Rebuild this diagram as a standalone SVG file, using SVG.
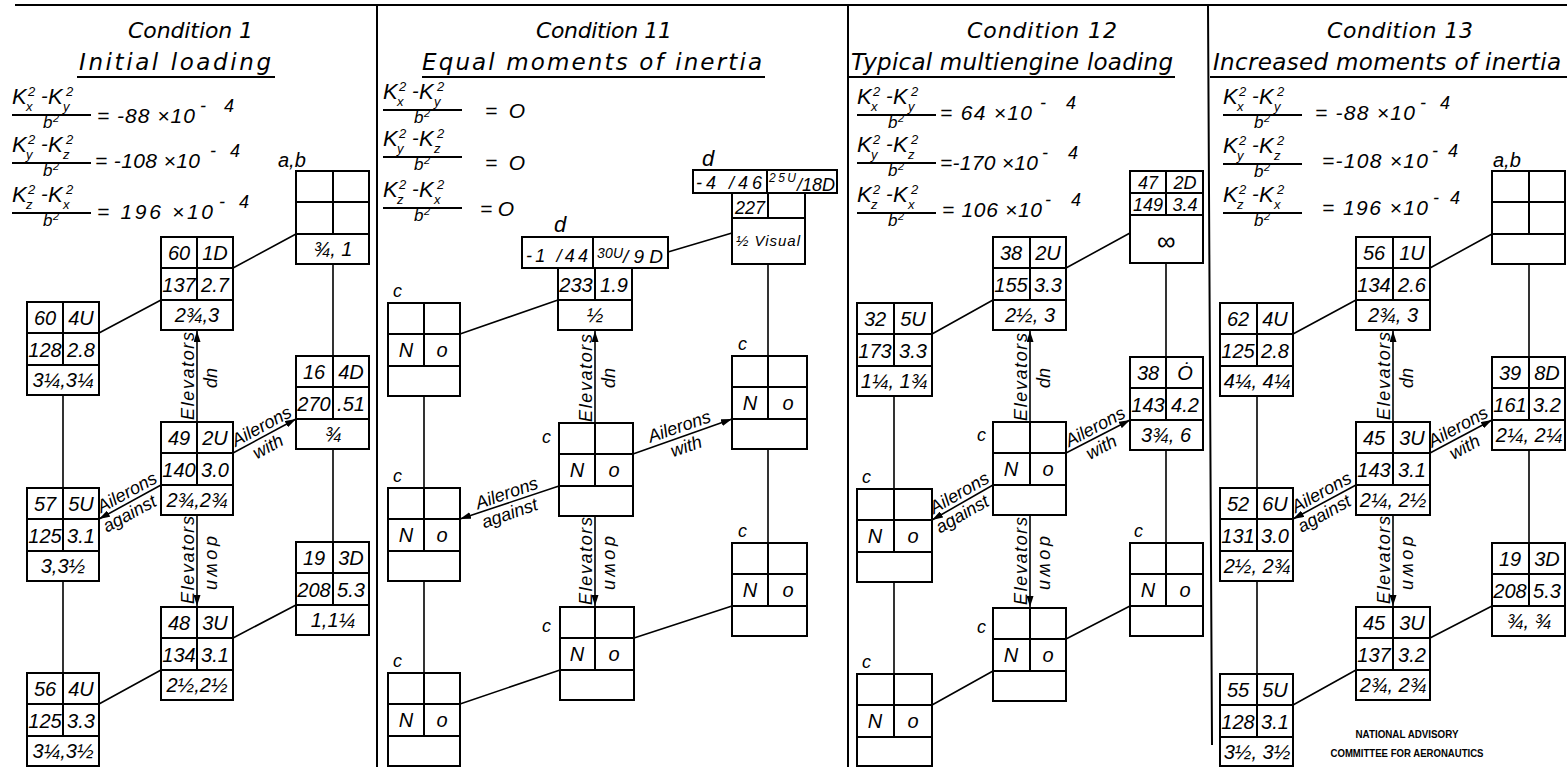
<svg xmlns="http://www.w3.org/2000/svg" width="1567" height="767" viewBox="0 0 1567 767">
<style>
text{font-family:"Liberation Sans",Arial,sans-serif;font-style:italic;fill:#000}
.c{text-anchor:middle}
.n{font-size:20px}
.s{font-size:18px}
.bx{fill:none;stroke:#000;stroke-width:2}
.ln{fill:none;stroke:#000;stroke-width:1.6}
.fr{stroke:#000;stroke-width:1.8}
.ttl{font-family:"DejaVu Sans",Verdana,sans-serif;font-style:oblique;font-size:22px}
.sub{font-family:"DejaVu Sans",Verdana,sans-serif;font-style:oblique;font-size:23px}
.lab{font-size:18px}
.eq{font-size:21px}
.sup{font-size:18px}
.stamp{font-style:normal;font-weight:bold;font-size:11px;text-anchor:middle}
</style>
<defs>
<marker id="ah" markerUnits="userSpaceOnUse" markerWidth="11" markerHeight="7" refX="11" refY="3.5" orient="auto"><path d="M0,0 L11,3.5 L0,7 z" fill="#000"/></marker>
<g id="fA">
<text x="0" y="-11" font-size="22">K</text><text x="16" y="-19" font-size="13">2</text><text x="14" y="-4" font-size="13">x</text>
<text x="29" y="-12" font-size="20">-</text>
<text x="36" y="-11" font-size="22">K</text><text x="54" y="-19" font-size="13">2</text><text x="51" y="-4" font-size="13">y</text>
<line class="fr" x1="0" y1="0" x2="79" y2="0"/>
<text x="31" y="13" font-size="17">b</text><text x="41" y="7" font-size="11">2</text>
</g>
<g id="fB">
<text x="0" y="-11" font-size="22">K</text><text x="16" y="-19" font-size="13">2</text><text x="14" y="-4" font-size="13">y</text>
<text x="29" y="-12" font-size="20">-</text>
<text x="36" y="-11" font-size="22">K</text><text x="54" y="-19" font-size="13">2</text><text x="51" y="-4" font-size="13">z</text>
<line class="fr" x1="0" y1="0" x2="79" y2="0"/>
<text x="31" y="13" font-size="17">b</text><text x="41" y="7" font-size="11">2</text>
</g>
<g id="fC">
<text x="0" y="-11" font-size="22">K</text><text x="16" y="-19" font-size="13">2</text><text x="14" y="-4" font-size="13">z</text>
<text x="29" y="-12" font-size="20">-</text>
<text x="36" y="-11" font-size="22">K</text><text x="54" y="-19" font-size="13">2</text><text x="51" y="-4" font-size="13">x</text>
<line class="fr" x1="0" y1="0" x2="79" y2="0"/>
<text x="31" y="13" font-size="17">b</text><text x="41" y="7" font-size="11">2</text>
</g>
</defs>
<rect width="1567" height="767" fill="#fff"/>

<g id="frame" fill="none" stroke="#000" stroke-width="2">
<path d="M15 5H1567M377 5V767M848 5V767M1208 5L1212 745"/>
<path d="M77 77H275M422 77H765M848 77H1175M1210 77H1567" stroke-width="1.8"/>
</g>

<g id="titles">
<text class="ttl" x="128" y="38" textLength="125" lengthAdjust="spacing">Condition 1</text>
<text class="sub" x="79" y="70" textLength="192" lengthAdjust="spacing">Initial loading</text>
<text class="ttl" x="536" y="38" textLength="136" lengthAdjust="spacing">Condition 11</text>
<text class="sub" x="422" y="70" textLength="340" lengthAdjust="spacing">Equal moments of inertia</text>
<text class="ttl" x="967" y="38" textLength="150" lengthAdjust="spacing">Condition 12</text>
<text class="sub" x="851" y="70" textLength="322" lengthAdjust="spacing">Typical multiengine loading</text>
<text class="ttl" x="1327" y="38" textLength="146" lengthAdjust="spacing">Condition 13</text>
<text class="sub" x="1213" y="70" textLength="348" lengthAdjust="spacing">Increased moments of inertia</text>
</g>

<g id="equations">
<use href="#fA" x="12" y="115"/><use href="#fB" x="12" y="163"/><use href="#fC" x="12" y="213"/>
<text class="eq" x="97" y="123" textLength="98" lengthAdjust="spacing">= -88 ×10</text><text class="sup" x="200" y="112" textLength="34" lengthAdjust="spacing">- 4</text>
<text class="eq" x="95" y="168" textLength="105" lengthAdjust="spacing">= -108 ×10</text><text class="sup" x="210" y="157" textLength="30" lengthAdjust="spacing">- 4</text>
<text class="eq" x="97" y="219" textLength="116" lengthAdjust="spacing">= 196 ×10</text><text class="sup" x="219" y="208" textLength="30" lengthAdjust="spacing">- 4</text>

<use href="#fA" x="383" y="110"/><use href="#fB" x="383" y="157"/><use href="#fC" x="383" y="208"/>
<text class="eq" x="485" y="118" textLength="40" lengthAdjust="spacing">=  O</text>
<text class="eq" x="485" y="170" textLength="40" lengthAdjust="spacing">=  O</text>
<text class="eq" x="480" y="216" textLength="34" lengthAdjust="spacing">= O</text>

<use href="#fA" x="857" y="115"/><use href="#fB" x="857" y="163"/><use href="#fC" x="857" y="213"/>
<text class="eq" x="940" y="120" textLength="92" lengthAdjust="spacing">= 64 ×10</text><text class="sup" x="1040" y="109" textLength="36" lengthAdjust="spacing">- 4</text>
<text class="eq" x="940" y="170" textLength="98" lengthAdjust="spacing">=-170 ×10</text><text class="sup" x="1042" y="159" textLength="36" lengthAdjust="spacing">- 4</text>
<text class="eq" x="942" y="217" textLength="100" lengthAdjust="spacing">= 106 ×10</text><text class="sup" x="1045" y="206" textLength="36" lengthAdjust="spacing">- 4</text>

<use href="#fA" x="1223" y="115"/><use href="#fB" x="1223" y="164"/><use href="#fC" x="1223" y="213"/>
<text class="eq" x="1315" y="120" textLength="100" lengthAdjust="spacing">= -88 ×10</text><text class="sup" x="1420" y="109" textLength="30" lengthAdjust="spacing">- 4</text>
<text class="eq" x="1322" y="168" textLength="106" lengthAdjust="spacing">=-108 ×10</text><text class="sup" x="1432" y="157" textLength="26" lengthAdjust="spacing">- 4</text>
<text class="eq" x="1322" y="215" textLength="106" lengthAdjust="spacing">= 196 ×10</text><text class="sup" x="1433" y="204" textLength="27" lengthAdjust="spacing">- 4</text>
</g>

<!-- Panel 1 nodes -->
<g id="p1-ab"><text class="n" x="278" y="167">a,b</text><rect class="bx" x="296" y="171" width="73" height="93"/><path class="bx" d="M296 202H369M296 234H369M333 171V234"/><text class="n c" x="333" y="256">¾, 1</text></g>
<g id="p1-m1"><rect class="bx" x="161" y="237" width="72" height="93"/><path class="bx" d="M161 268H233M161 300H233M197 237V300"/><text class="n c" x="179" y="260">60</text><text class="n c" x="215" y="260">1D</text><text class="n c" x="179" y="292">137</text><text class="n c" x="215" y="292">2.7</text><text class="n c" x="197" y="322">2¾,3</text></g>
<g id="p1-l1"><rect class="bx" x="27" y="302" width="72" height="93"/><path class="bx" d="M27 333H99M27 365H99M63 302V365"/><text class="n c" x="45" y="325">60</text><text class="n c" x="81" y="325">4U</text><text class="n c" x="45" y="357">128</text><text class="n c" x="81" y="357">2.8</text><text class="n c" x="63" y="387">3¼,3¼</text></g>
<g id="p1-r2"><rect class="bx" x="296" y="356" width="73" height="93"/><path class="bx" d="M296 387H369M296 419H369M333 356V419"/><text class="n c" x="314" y="379">16</text><text class="n c" x="351" y="379">4D</text><text class="n c" x="314" y="411">270</text><text class="n c" x="351" y="411">.51</text><text class="n c" x="333" y="441">¾</text></g>
<g id="p1-m2"><rect class="bx" x="161" y="422" width="72" height="93"/><path class="bx" d="M161 453H233M161 485H233M197 422V485"/><text class="n c" x="179" y="445">49</text><text class="n c" x="215" y="445">2U</text><text class="n c" x="179" y="477">140</text><text class="n c" x="215" y="477">3.0</text><text class="n c" x="197" y="507">2¾,2¾</text></g>
<g id="p1-l2"><rect class="bx" x="27" y="488" width="72" height="93"/><path class="bx" d="M27 519H99M27 551H99M63 488V551"/><text class="n c" x="45" y="511">57</text><text class="n c" x="81" y="511">5U</text><text class="n c" x="45" y="543">125</text><text class="n c" x="81" y="543">3.1</text><text class="n c" x="63" y="573">3,3½</text></g>
<g id="p1-r3"><rect class="bx" x="296" y="542" width="73" height="93"/><path class="bx" d="M296 573H369M296 605H369M333 542V605"/><text class="n c" x="314" y="565">19</text><text class="n c" x="351" y="565">3D</text><text class="n c" x="314" y="597">208</text><text class="n c" x="351" y="597">5.3</text><text class="n c" x="333" y="627">1,1¼</text></g>
<g id="p1-m3"><rect class="bx" x="161" y="607" width="72" height="93"/><path class="bx" d="M161 638H233M161 670H233M197 607V670"/><text class="n c" x="179" y="630">48</text><text class="n c" x="215" y="630">3U</text><text class="n c" x="179" y="662">134</text><text class="n c" x="215" y="662">3.1</text><text class="n c" x="197" y="692">2½,2½</text></g>
<g id="p1-l3"><rect class="bx" x="27" y="673" width="72" height="93"/><path class="bx" d="M27 704H99M27 736H99M63 673V736"/><text class="n c" x="45" y="696">56</text><text class="n c" x="81" y="696">4U</text><text class="n c" x="45" y="728">125</text><text class="n c" x="81" y="728">3.3</text><text class="n c" x="63" y="758">3¼,3½</text></g>

<!-- Panel 2 nodes -->
<g id="p2-d1"><text x="702" y="166" font-size="22">d</text><rect class="bx" x="693" y="170" width="144" height="23"/><path class="bx" d="M767 170V193"/><rect class="bx" x="732" y="193" width="73" height="71"/><path class="bx" d="M732 218H805M768 193V218"/><text class="s" x="696" y="189" textLength="66" lengthAdjust="spacing">-4 /46</text><text x="769" y="182" font-size="12" textLength="27" lengthAdjust="spacing">25U</text><text x="797" y="191" font-size="18" textLength="38" lengthAdjust="spacing">/18D</text><text class="s c" x="750" y="214">227</text><text class="c" x="768" y="246" font-size="15" textLength="64" lengthAdjust="spacing">½ Visual</text></g>
<g id="p2-d2"><text x="554" y="232" font-size="22">d</text><rect class="bx" x="522" y="237" width="146" height="31"/><path class="bx" d="M593 237V268"/><rect class="bx" x="558" y="268" width="74" height="62"/><path class="bx" d="M558 300H632M595 268V300"/><text class="s" x="526" y="262" textLength="62" lengthAdjust="spacing">-1 /44</text><text x="597" y="258" font-size="14" textLength="26" lengthAdjust="spacing">30U</text><text x="623" y="263" font-size="19" textLength="40" lengthAdjust="spacing">/9D</text><text class="n c" x="576" y="292">233</text><text class="n c" x="614" y="292">1.9</text><text class="n c" x="595" y="322">½</text></g>
<g id="p2-l1"><text class="lab" x="393" y="297">c</text><rect class="bx" x="388" y="303" width="72" height="93"/><path class="bx" d="M388 334H460M388 366H460M424 303V366"/><text class="n c" x="406" y="357">N</text><text class="n c" x="442" y="357">o</text></g>
<g id="p2-r2"><text class="lab" x="738" y="350">c</text><rect class="bx" x="732" y="356" width="75" height="93"/><path class="bx" d="M732 387H807M732 419H807M768 356V419"/><text class="n c" x="750" y="410">N</text><text class="n c" x="788" y="410">o</text></g>
<g id="p2-m2"><text class="lab" x="542" y="443">c</text><rect class="bx" x="559" y="423" width="74" height="93"/><path class="bx" d="M559 454H633M559 486H633M595 423V486"/><text class="n c" x="577" y="477">N</text><text class="n c" x="614" y="477">o</text></g>
<g id="p2-l2"><text class="lab" x="393" y="482">c</text><rect class="bx" x="388" y="488" width="72" height="93"/><path class="bx" d="M388 519H460M388 551H460M424 488V551"/><text class="n c" x="406" y="542">N</text><text class="n c" x="442" y="542">o</text></g>
<g id="p2-r3"><text class="lab" x="738" y="537">c</text><rect class="bx" x="732" y="543" width="75" height="93"/><path class="bx" d="M732 574H807M732 606H807M768 543V606"/><text class="n c" x="750" y="597">N</text><text class="n c" x="788" y="597">o</text></g>
<g id="p2-m3"><text class="lab" x="542" y="632">c</text><rect class="bx" x="560" y="607" width="74" height="93"/><path class="bx" d="M560 638H634M560 670H634M595 607V670"/><text class="n c" x="577" y="661">N</text><text class="n c" x="614" y="661">o</text></g>
<g id="p2-l3"><text class="lab" x="393" y="667">c</text><rect class="bx" x="388" y="673" width="72" height="93"/><path class="bx" d="M388 704H460M388 736H460M424 673V736"/><text class="n c" x="406" y="727">N</text><text class="n c" x="442" y="727">o</text></g>

<!-- Panel 3 nodes -->
<g id="p3-r1"><rect class="bx" x="1130" y="171" width="73" height="92"/><path class="bx" d="M1130 193H1203M1130 215H1203M1166 171V215"/><text class="s c" x="1148" y="189">47</text><text class="s c" x="1185" y="189">2D</text><text class="s c" x="1148" y="211">149</text><text class="s c" x="1185" y="211">3.4</text><text class="c" x="1166" y="250" font-size="26" font-style="normal">∞</text></g>
<g id="p3-m1"><rect class="bx" x="993" y="237" width="73" height="93"/><path class="bx" d="M993 268H1066M993 300H1066M1030 237V300"/><text class="n c" x="1011" y="260">38</text><text class="n c" x="1048" y="260">2U</text><text class="n c" x="1011" y="292">155</text><text class="n c" x="1048" y="292">3.3</text><text class="n c" x="1030" y="322">2½, 3</text></g>
<g id="p3-l1"><rect class="bx" x="857" y="303" width="75" height="93"/><path class="bx" d="M857 334H932M857 366H932M894 303V366"/><text class="n c" x="875" y="326">32</text><text class="n c" x="913" y="326">5U</text><text class="n c" x="875" y="358">173</text><text class="n c" x="913" y="358">3.3</text><text class="n c" x="894" y="388">1¼, 1¾</text></g>
<g id="p3-r2"><rect class="bx" x="1130" y="357" width="73" height="93"/><path class="bx" d="M1130 388H1203M1130 420H1203M1166 357V420"/><text class="n c" x="1148" y="380">38</text><text class="n c" x="1185" y="380">Ȯ</text><text class="n c" x="1148" y="412">143</text><text class="n c" x="1185" y="412">4.2</text><text class="n c" x="1166" y="442">3¾, 6</text></g>
<g id="p3-m2"><text class="lab" x="977" y="441">c</text><rect class="bx" x="993" y="422" width="73" height="93"/><path class="bx" d="M993 453H1066M993 485H1066M1030 422V485"/><text class="n c" x="1011" y="476">N</text><text class="n c" x="1048" y="476">o</text></g>
<g id="p3-l2"><text class="lab" x="862" y="483">c</text><rect class="bx" x="857" y="489" width="75" height="93"/><path class="bx" d="M857 520H932M857 552H932M894 489V552"/><text class="n c" x="875" y="543">N</text><text class="n c" x="913" y="543">o</text></g>
<g id="p3-r3"><text class="lab" x="1134" y="537">c</text><rect class="bx" x="1130" y="543" width="73" height="93"/><path class="bx" d="M1130 574H1203M1130 606H1203M1166 543V606"/><text class="n c" x="1148" y="597">N</text><text class="n c" x="1185" y="597">o</text></g>
<g id="p3-m3"><text class="lab" x="977" y="633">c</text><rect class="bx" x="993" y="608" width="73" height="93"/><path class="bx" d="M993 639H1066M993 671H1066M1030 608V671"/><text class="n c" x="1011" y="662">N</text><text class="n c" x="1048" y="662">o</text></g>
<g id="p3-l3"><text class="lab" x="862" y="668">c</text><rect class="bx" x="857" y="674" width="75" height="92"/><path class="bx" d="M857 705H932M857 737H932M894 674V737"/><text class="n c" x="875" y="728">N</text><text class="n c" x="913" y="728">o</text></g>

<!-- Panel 4 nodes -->
<g id="p4-ab"><text class="n" x="1493" y="167">a,b</text><rect class="bx" x="1492" y="171" width="73" height="93"/><path class="bx" d="M1492 202H1565M1492 234H1565M1529 171V234"/></g>
<g id="p4-m1"><rect class="bx" x="1356" y="237" width="74" height="93"/><path class="bx" d="M1356 268H1430M1356 300H1430M1393 237V300"/><text class="n c" x="1374" y="260">56</text><text class="n c" x="1412" y="260">1U</text><text class="n c" x="1374" y="292">134</text><text class="n c" x="1412" y="292">2.6</text><text class="n c" x="1393" y="322">2¾, 3</text></g>
<g id="p4-l1"><rect class="bx" x="1220" y="303" width="73" height="93"/><path class="bx" d="M1220 334H1293M1220 366H1293M1257 303V366"/><text class="n c" x="1238" y="326">62</text><text class="n c" x="1275" y="326">4U</text><text class="n c" x="1238" y="358">125</text><text class="n c" x="1275" y="358">2.8</text><text class="n c" x="1257" y="388">4¼, 4¼</text></g>
<g id="p4-r2"><rect class="bx" x="1492" y="357" width="73" height="93"/><path class="bx" d="M1492 388H1565M1492 420H1565M1529 357V420"/><text class="n c" x="1510" y="380">39</text><text class="n c" x="1547" y="380">8D</text><text class="n c" x="1510" y="412">161</text><text class="n c" x="1547" y="412">3.2</text><text class="n c" x="1529" y="442">2¼, 2¼</text></g>
<g id="p4-m2"><rect class="bx" x="1356" y="422" width="74" height="93"/><path class="bx" d="M1356 453H1430M1356 485H1430M1393 422V485"/><text class="n c" x="1374" y="445">45</text><text class="n c" x="1412" y="445">3U</text><text class="n c" x="1374" y="477">143</text><text class="n c" x="1412" y="477">3.1</text><text class="n c" x="1393" y="507">2¼, 2½</text></g>
<g id="p4-l2"><rect class="bx" x="1220" y="488" width="73" height="93"/><path class="bx" d="M1220 519H1293M1220 551H1293M1257 488V551"/><text class="n c" x="1238" y="511">52</text><text class="n c" x="1275" y="511">6U</text><text class="n c" x="1238" y="543">131</text><text class="n c" x="1275" y="543">3.0</text><text class="n c" x="1257" y="573">2½, 2¾</text></g>
<g id="p4-r3"><rect class="bx" x="1492" y="543" width="73" height="93"/><path class="bx" d="M1492 574H1565M1492 606H1565M1529 543V606"/><text class="n c" x="1510" y="566">19</text><text class="n c" x="1547" y="566">3D</text><text class="n c" x="1510" y="598">208</text><text class="n c" x="1547" y="598">5.3</text><text class="n c" x="1529" y="628">¾, ¾</text></g>
<g id="p4-m3"><rect class="bx" x="1356" y="607" width="74" height="93"/><path class="bx" d="M1356 638H1430M1356 670H1430M1393 607V670"/><text class="n c" x="1374" y="630">45</text><text class="n c" x="1412" y="630">3U</text><text class="n c" x="1374" y="662">137</text><text class="n c" x="1412" y="662">3.2</text><text class="n c" x="1393" y="692">2¾, 2¾</text></g>
<g id="p4-l3"><rect class="bx" x="1220" y="674" width="73" height="92"/><path class="bx" d="M1220 705H1293M1220 737H1293M1257 674V737"/><text class="n c" x="1238" y="697">55</text><text class="n c" x="1275" y="697">5U</text><text class="n c" x="1238" y="729">128</text><text class="n c" x="1275" y="729">3.1</text><text class="n c" x="1257" y="759">3½, 3½</text></g>

<g id="connectors">
<path class="ln" d="M99 333L161 300M233 268L296 234M333 264V356M333 449V542M63 395V488M63 581V673M233 638L296 605M99 704L161 670"/>
<path class="ln" d="M197 422V331" marker-end="url(#ah)"/>
<path class="ln" d="M197 515V606" marker-end="url(#ah)"/>
<path class="ln" d="M233 453L296 419" marker-end="url(#ah)"/>
<path class="ln" d="M161 485L99 519" marker-end="url(#ah)"/>

<path class="ln" d="M460 334L558 300M668 252L732 233M768 264V356M768 449V543M424 396V488M424 581V673M634 638L732 606M460 704L560 670"/>
<path class="ln" d="M595 423V331" marker-end="url(#ah)"/>
<path class="ln" d="M595 516V606" marker-end="url(#ah)"/>
<path class="ln" d="M633 454L732 419" marker-end="url(#ah)"/>
<path class="ln" d="M559 486L460 519" marker-end="url(#ah)"/>

<path class="ln" d="M932 334L993 300M1066 268L1130 233M1166 263V357M1166 450V543M894 396V489M894 582V674M1066 639L1130 606M932 705L993 671"/>
<path class="ln" d="M1030 422V331" marker-end="url(#ah)"/>
<path class="ln" d="M1030 515V607" marker-end="url(#ah)"/>
<path class="ln" d="M1066 453L1130 420" marker-end="url(#ah)"/>
<path class="ln" d="M993 485L932 520" marker-end="url(#ah)"/>

<path class="ln" d="M1293 334L1356 300M1430 268L1492 234M1529 264V357M1529 450V543M1257 396V488M1257 581V674M1430 638L1492 606M1293 705L1356 670"/>
<path class="ln" d="M1393 422V331" marker-end="url(#ah)"/>
<path class="ln" d="M1393 515V606" marker-end="url(#ah)"/>
<path class="ln" d="M1430 453L1492 420" marker-end="url(#ah)"/>
<path class="ln" d="M1356 485L1293 519" marker-end="url(#ah)"/>

<g class="lab">
<text class="c" transform="translate(194,376) rotate(-90)" textLength="88" lengthAdjust="spacing">Elevators</text>
<text class="c" transform="translate(207,378) rotate(90)">up</text>
<text class="c" transform="translate(194,560) rotate(-90)" textLength="88" lengthAdjust="spacing">Elevators</text>
<text class="c" transform="translate(207,563) rotate(90)" textLength="54" lengthAdjust="spacing">down</text>
<g transform="translate(264.5,436) rotate(-28.4)"><text class="c" x="2" y="-4">Ailerons</text><text class="c" x="-2" y="17">with</text></g>
<g transform="translate(130,502) rotate(-28.7)"><text class="c" x="2" y="-4">Ailerons</text><text class="c" x="-6" y="16">against</text></g>

<text class="c" transform="translate(592,378) rotate(-90)" textLength="88" lengthAdjust="spacing">Elevators</text>
<text class="c" transform="translate(605,378) rotate(90)">up</text>
<text class="c" transform="translate(592,561) rotate(-90)" textLength="88" lengthAdjust="spacing">Elevators</text>
<text class="c" transform="translate(605,563) rotate(90)" textLength="54" lengthAdjust="spacing">down</text>
<g transform="translate(682.5,436) rotate(-19)"><text class="c" x="0" y="-4">Ailerons</text><text class="c" x="0" y="17">with</text></g>
<g transform="translate(510,502.5) rotate(-19.3)"><text class="c" x="0" y="-4">Ailerons</text><text class="c" x="-4" y="16">against</text></g>

<text class="c" transform="translate(1027,377) rotate(-90)" textLength="88" lengthAdjust="spacing">Elevators</text>
<text class="c" transform="translate(1040,378) rotate(90)">up</text>
<text class="c" transform="translate(1027,561) rotate(-90)" textLength="88" lengthAdjust="spacing">Elevators</text>
<text class="c" transform="translate(1040,563) rotate(90)" textLength="54" lengthAdjust="spacing">down</text>
<g transform="translate(1098,436.5) rotate(-28)"><text class="c" x="2" y="-4">Ailerons</text><text class="c" x="-2" y="17">with</text></g>
<g transform="translate(962.5,502.5) rotate(-29.8)"><text class="c" x="2" y="-4">Ailerons</text><text class="c" x="-6" y="16">against</text></g>

<text class="c" transform="translate(1390,376) rotate(-90)" textLength="88" lengthAdjust="spacing">Elevators</text>
<text class="c" transform="translate(1403,378) rotate(90)">up</text>
<text class="c" transform="translate(1390,560) rotate(-90)" textLength="88" lengthAdjust="spacing">Elevators</text>
<text class="c" transform="translate(1403,563) rotate(90)" textLength="54" lengthAdjust="spacing">down</text>
<g transform="translate(1461,436.5) rotate(-28.7)"><text class="c" x="2" y="-4">Ailerons</text><text class="c" x="-2" y="17">with</text></g>
<g transform="translate(1324.5,502) rotate(-29)"><text class="c" x="2" y="-4">Ailerons</text><text class="c" x="-6" y="16">against</text></g>
</g>
</g>

<g id="stamp">
<text class="stamp" x="1407" y="738" textLength="103" lengthAdjust="spacingAndGlyphs">NATIONAL ADVISORY</text>
<text class="stamp" x="1407" y="757" textLength="153" lengthAdjust="spacingAndGlyphs">COMMITTEE FOR AERONAUTICS</text>
</g>
</svg>
